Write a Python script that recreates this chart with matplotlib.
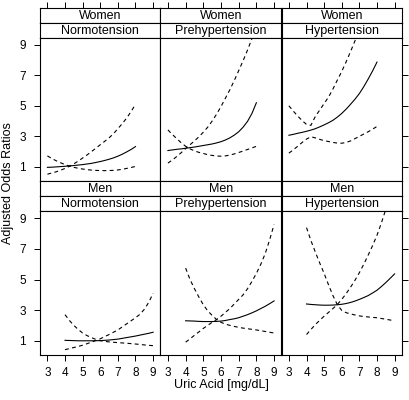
import matplotlib
matplotlib.use('Agg')
import matplotlib.pyplot as plt

### uric acid grid, women 3-8, men 4-9
women_x = [3, 3.25, 3.5, 3.75, 4, 4.25, 4.5, 4.75, 5, 5.25, 5.5, 5.75,
           6, 6.25, 6.5, 6.75, 7, 7.25, 7.5, 7.75, 8]
men_x = [4, 4.25, 4.5, 4.75, 5, 5.25, 5.5, 5.75, 6, 6.25, 6.5, 6.75,
         7, 7.25, 7.5, 7.75, 8, 8.25, 8.5, 8.75, 9]

sexes = ['Women', 'Men']
conditions = ['Normotension', 'Prehypertension', 'Hypertension']

### adjusted odds ratio (est) with the two confidence bands
women_normo_est = [0.97, 0.98, 1.0, 1.02, 1.04, 1.06, 1.09, 1.12, 1.15, 1.19, 1.23, 1.29,
                   1.35, 1.42, 1.5, 1.59, 1.7, 1.83, 1.98, 2.14, 2.33]
women_normo_up = [0.52, 0.6, 0.68, 0.78, 0.9, 1.04, 1.2, 1.38, 1.58, 1.78, 2.0, 2.22,
                  2.45, 2.67, 2.9, 3.17, 3.5, 3.83, 4.2, 4.62, 5.1]
women_normo_lo = [1.72, 1.55, 1.4, 1.27, 1.15, 1.05, 0.97, 0.91, 0.86, 0.82, 0.79, 0.77,
                  0.76, 0.755, 0.76, 0.775, 0.8, 0.84, 0.9, 0.96, 1.03]

women_prehyp_est = [2.07, 2.11, 2.15, 2.18, 2.22, 2.26, 2.3, 2.35, 2.4, 2.45, 2.5, 2.57,
                    2.65, 2.76, 2.9, 3.08, 3.3, 3.6, 3.98, 4.5, 5.2]
women_prehyp_up = [1.25, 1.45, 1.68, 1.93, 2.2, 2.45, 2.7, 2.97, 3.27, 3.6, 4.0, 4.45,
                   4.95, 5.5, 6.05, 6.65, 7.3, 7.95, 8.65, 9.4, 10.2]
women_prehyp_lo = [3.42, 3.12, 2.85, 2.58, 2.35, 2.18, 2.05, 1.95, 1.88, 1.8, 1.75, 1.71,
                   1.7, 1.72, 1.77, 1.85, 1.94, 2.04, 2.14, 2.24, 2.35]

women_hyp_est = [3.07, 3.13, 3.2, 3.26, 3.33, 3.41, 3.5, 3.62, 3.75, 3.89, 4.05, 4.26,
                 4.5, 4.78, 5.1, 5.43, 5.8, 6.25, 6.75, 7.28, 7.86]
women_hyp_up = [5.0, 4.65, 4.33, 4.03, 3.78, 3.72, 4.3, 4.72, 5.15, 5.57, 6.1, 6.68,
                7.25, 7.88, 8.55, 9.25, 9.95, 10.7, 11.4, 12.2, 13.0]
women_hyp_lo = [1.9, 2.12, 2.35, 2.6, 2.82, 2.97, 2.9, 2.8, 2.72, 2.66, 2.6, 2.56,
                2.55, 2.6, 2.7, 2.85, 3.0, 3.15, 3.3, 3.47, 3.65]

men_normo_est = [1.02, 1.01, 1.0, 0.99, 0.99, 0.99, 0.99, 0.995, 1.0, 1.02, 1.04, 1.07,
                 1.1, 1.15, 1.2, 1.25, 1.3, 1.36, 1.42, 1.48, 1.55]
men_normo_up = [0.41, 0.48, 0.55, 0.62, 0.7, 0.8, 0.9, 1.01, 1.12, 1.26, 1.4, 1.55,
                1.7, 1.9, 2.1, 2.3, 2.5, 2.72, 3.05, 3.5, 4.1]
men_normo_lo = [2.7, 2.32, 2.0, 1.73, 1.5, 1.33, 1.2, 1.08, 1.0, 0.95, 0.92, 0.895,
                0.87, 0.85, 0.83, 0.805, 0.78, 0.75, 0.72, 0.695, 0.67]

men_prehyp_est = [2.3, 2.29, 2.28, 2.26, 2.25, 2.25, 2.25, 2.26, 2.28, 2.32, 2.38, 2.43,
                  2.5, 2.6, 2.7, 2.82, 2.95, 3.1, 3.25, 3.42, 3.6]
men_prehyp_up = [0.9, 1.12, 1.35, 1.57, 1.8, 2.0, 2.2, 2.38, 2.6, 2.85, 3.1, 3.4,
                 3.7, 4.0, 4.4, 4.88, 5.4, 6.0, 6.7, 7.6, 8.6]
men_prehyp_lo = [5.75, 5.0, 4.4, 3.85, 3.35, 2.95, 2.65, 2.38, 2.2, 2.08, 2.0, 1.93,
                 1.87, 1.82, 1.78, 1.74, 1.7, 1.65, 1.6, 1.55, 1.5]

men_hyp_est = [3.4, 3.37, 3.35, 3.33, 3.32, 3.32, 3.33, 3.35, 3.38, 3.43, 3.5, 3.59,
               3.7, 3.82, 3.95, 4.12, 4.3, 4.54, 4.8, 5.08, 5.37]
men_hyp_up = [1.4, 1.73, 2.05, 2.33, 2.6, 2.85, 3.1, 3.37, 3.7, 4.08, 4.5, 4.95,
              5.45, 6.0, 6.6, 7.22, 7.9, 8.7, 9.6, 10.6, 11.7]
men_hyp_lo = [8.4, 7.55, 6.8, 6.08, 5.4, 4.65, 3.95, 3.35, 2.98, 2.83, 2.75, 2.68,
              2.62, 2.58, 2.55, 2.52, 2.5, 2.45, 2.4, 2.35, 2.3]

x_ticks = [3, 4, 5, 6, 7, 8, 9]
y_ticks = [1, 3, 5, 7, 9]

W, H = 410, 400


def rect(x0, y0, x1, y1):
    # pixel box (top-left origin) -> figure fraction
    return [x0 / W, 1 - y1 / H, (x1 - x0) / W, (y1 - y0) / H]


def main():
    plt.rcParams['font.family'] = ['Liberation Sans', 'DejaVu Sans']

    panels = {
        ('Women', 'Normotension'): (women_x, women_normo_est, women_normo_up, women_normo_lo),
        ('Women', 'Prehypertension'): (women_x, women_prehyp_est, women_prehyp_up, women_prehyp_lo),
        ('Women', 'Hypertension'): (women_x, women_hyp_est, women_hyp_up, women_hyp_lo),
        ('Men', 'Normotension'): (men_x, men_normo_est, men_normo_up, men_normo_lo),
        ('Men', 'Prehypertension'): (men_x, men_prehyp_est, men_prehyp_up, men_prehyp_lo),
        ('Men', 'Hypertension'): (men_x, men_hyp_est, men_hyp_up, men_hyp_lo),
    }

    fig = plt.figure(figsize=(W / 100, H / 100), dpi=100)

    col_edges = [40, 160.5, 281.5, 402]
    row_tops = [7.5, 181.25]
    strip_h = 15
    block_h = 173.75
    xlim = (2.58, 9.42)
    ylim = (0.06, 9.47)
    tick_kw = dict(direction='out', length=4.3, width=0.7, color='black', labelsize=8.5)

    for r, sex in enumerate(sexes):
        top = row_tops[r]
        for c, cond in enumerate(conditions):
            x0, x1 = col_edges[c], col_edges[c + 1]
            s1 = fig.add_axes(rect(x0, top, x1, top + strip_h))
            s2 = fig.add_axes(rect(x0, top + strip_h, x1, top + 2 * strip_h))
            ax = fig.add_axes(rect(x0, top + 2 * strip_h, x1, top + block_h))

            for s, txt in ((s1, sex), (s2, cond)):
                s.set_xlim(xlim)
                s.set_yticks([])
                s.set_xticks([])
                for sp in s.spines.values():
                    sp.set_linewidth(0.8)
                s.text(0.5, 0.45, txt, transform=s.transAxes, ha='center', va='center', fontsize=9)

            ### top ticks only above the women strips
            if r == 0:
                s1.set_xticks(x_ticks)
                s1.xaxis.set_ticks_position('top')
                s1.tick_params(axis='x', labeltop=False, **tick_kw)

            x, est, up, lo = panels[(sex, cond)]
            ax.plot(x, est, color='black', lw=0.8)
            ax.plot(x, up, color='black', lw=0.8, dashes=(3.5, 3))
            ax.plot(x, lo, color='black', lw=0.8, dashes=(3.5, 3))
            ax.set_xlim(xlim)
            ax.set_ylim(ylim)
            for sp in ax.spines.values():
                sp.set_linewidth(0.8)

            ax.set_xticks(x_ticks)
            ax.set_yticks(y_ticks)
            ax.tick_params(axis='x', bottom=(r == 1), labelbottom=(r == 1), pad=4.5, **tick_kw)
            ax.tick_params(axis='y', left=(c == 0), labelleft=(c == 0),
                           right=(c == 2), labelright=False, pad=6, **tick_kw)

    fig.text(221 / W, 1 - 385 / H, 'Uric Acid [mg/dL]', ha='center', va='center', fontsize=9)
    fig.text(8.5 / W, 1 - 183 / H, 'Adjusted Odds Ratios', ha='center', va='center',
             rotation=90, fontsize=9)

    fig.savefig('out.png', dpi=100)


if __name__ == '__main__':
    main()
